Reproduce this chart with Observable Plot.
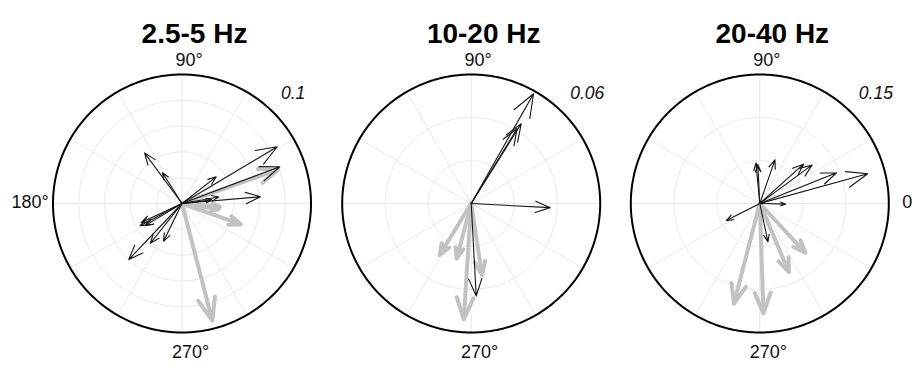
<!DOCTYPE html>
<html><head><meta charset="utf-8">
<script src="https://cdn.jsdelivr.net/npm/d3@7"></script>
<script src="https://cdn.jsdelivr.net/npm/@observablehq/plot@0.6"></script>
<style>
html,body{margin:0;padding:0;background:#fff;}
#row{display:flex;width:912px;height:365px;overflow:hidden;background:#fff;}
#row svg{display:block;flex:none;}
</style></head><body><div id="row"></div>
<script>
// ---- data ----
const titles = ["2.5-5 Hz", "10-20 Hz", "20-40 Hz"];
const scaleMax = [0.1, 0.06, 0.15];
const scaleLabels = ["0.1", "0.06", "0.15"];
const ringTicks1 = [0.02, 0.04, 0.06, 0.08, 0.1];
const ringTicks2 = [0.02, 0.04, 0.06];
const ringTicks3 = [0.05, 0.1, 0.15];
const spokeAngles = [0, 30, 60, 90, 120, 150, 180, 210, 240, 270, 300, 330];
const angleTicks1 = [90, 180, 270];
const angleTicks2 = [90, 270];
const angleTicks3 = [90, 270, 0];

// panel 1 (2.5-5 Hz)
const blackAngle1 = [30.8, 20.6, 4.9, 38, 10, 7, 126.5, 122.5, 208, 205, 211, 231.5, 244, 226.5];
const blackMag1   = [0.0859, 0.0810, 0.0611, 0.0336, 0.0290, 0.0233, 0.0488, 0.0283, 0.0368, 0.0349, 0.0333, 0.0395, 0.0326, 0.0599];
const greyAngle1  = [284.5, 340.5, 19.4, 355, 351];
const greyMag1    = [0.0938, 0.0484, 0.0791, 0.0295, 0.0287];
// panel 2 (10-20 Hz)
const blackAngle2 = [60.4, 57.9, 58.5, 357, 273.1];
const blackMag2   = [0.0587, 0.0438, 0.0409, 0.0368, 0.0431];
const greyAngle2  = [238.5, 255.2, 278.6, 266.3];
const greyMag2    = [0.0281, 0.0265, 0.0337, 0.0540];
// panel 3 (20-40 Hz)
const blackAngle3 = [15.4, 21.8, 36.4, 42, 70.8, 95.5, 93, 358.6, 207, 282];
const blackMag3   = [0.1302, 0.0962, 0.0756, 0.0684, 0.0537, 0.0474, 0.0453, 0.0299, 0.0437, 0.0457];
const greyAngle3  = [312.8, 293, 271.9, 255.5];
const greyMag3    = [0.0781, 0.0868, 0.1279, 0.1203];

// ---- layout ----
const R = 129, CY = 203, H = 365;
const layout = [{w: 326, cx: 181.5}, {w: 289, cx: 144.7}, {w: 297, cx: 144.3}];
const labelPlace = {90: {r: 143, dx: 7, dy: 0}, 270: {r: 149, dx: 8.5, dy: 0}, 180: {r: 152, dx: 0, dy: -1}, 0: {r: 151, dx: 0, dy: -1}};
const rad = Math.PI / 180;

const panels = [
  {rings: ringTicks1, ticks: angleTicks1, bA: blackAngle1, bM: blackMag1, gA: greyAngle1, gM: greyMag1},
  {rings: ringTicks2, ticks: angleTicks2, bA: blackAngle2, bM: blackMag2, gA: greyAngle2, gM: greyMag2},
  {rings: ringTicks3, ticks: angleTicks3, bA: blackAngle3, bM: blackMag3, gA: greyAngle3, gM: greyMag3}
];

function makePanel(i) {
  const p = panels[i];
  const m = scaleMax[i];
  const {w, cx} = layout[i];
  const px = v => v / m * R;
  const circ = d3.range(0, 361, 1);
  const ringPts = p.rings.flatMap(r => circ.map(a => ({r, a})));
  const outerPts = circ.map(a => ({r: m, a}));
  const grey = p.gA.map((a, j) => ({a, v: p.gM[j]}));
  const black = p.bA.map((a, j) => ({a, v: p.bM[j]}));
  const arrows = (arr, color, sw) => arr.map(d => Plot.arrow([d], {
    x1: () => 0, y1: () => 0,
    x2: d => d.v * Math.cos(d.a * rad), y2: d => d.v * Math.sin(d.a * rad),
    stroke: color, strokeWidth: sw, headAngle: 42, headLength: 0.3 * px(d.v) / sw
  }));
  const tickLabels = p.ticks.map(a => {
    const L = labelPlace[a];
    return Plot.text([a], {
      x: a => Math.cos(a * rad) * m * L.r / R, y: a => Math.sin(a * rad) * m * L.r / R,
      text: a => `${a}°`, dx: L.dx, dy: L.dy, fontSize: 18, fill: "#111", textAnchor: "middle"
    });
  });
  return Plot.plot({
    width: w, height: H,
    marginLeft: cx - R, marginRight: w - cx - R,
    marginTop: CY - R, marginBottom: H - CY - R,
    x: {domain: [-m, m], axis: null},
    y: {domain: [-m, m], axis: null},
    style: {fontFamily: "'Liberation Sans', Arial, Helvetica, sans-serif", background: "white", overflow: "hidden"},
    marks: [
      Plot.line(ringPts, {x: d => d.r * Math.cos(d.a * rad), y: d => d.r * Math.sin(d.a * rad), z: "r", stroke: "#e9e9e9", strokeWidth: 1}),
      Plot.link(spokeAngles, {x1: () => 0, y1: () => 0, x2: a => m * Math.cos(a * rad), y2: a => m * Math.sin(a * rad), stroke: "#e9e9e9", strokeWidth: 1}),
      Plot.line(outerPts, {x: d => d.r * Math.cos(d.a * rad), y: d => d.r * Math.sin(d.a * rad), stroke: "#000", strokeWidth: 2}),
      ...arrows(grey, "#c2c2c2", 4),
      ...arrows(black, "#161616", 1.1),
      ...tickLabels,
      Plot.text([scaleLabels[i]], {x: () => m * 99 / R, y: () => m * 110 / R, text: d => d, textAnchor: "start", fontStyle: "italic", fontSize: 17.5, fill: "#111"}),
      Plot.text([titles[i]], {frameAnchor: "top", text: d => d, dx: 12.5, dy: -51, fontSize: 28, fontWeight: "bold", fill: "#000"})
    ]
  });
}

const row = document.getElementById("row");
for (let i = 0; i < 3; i++) row.appendChild(makePanel(i));
</script>
</body></html>
